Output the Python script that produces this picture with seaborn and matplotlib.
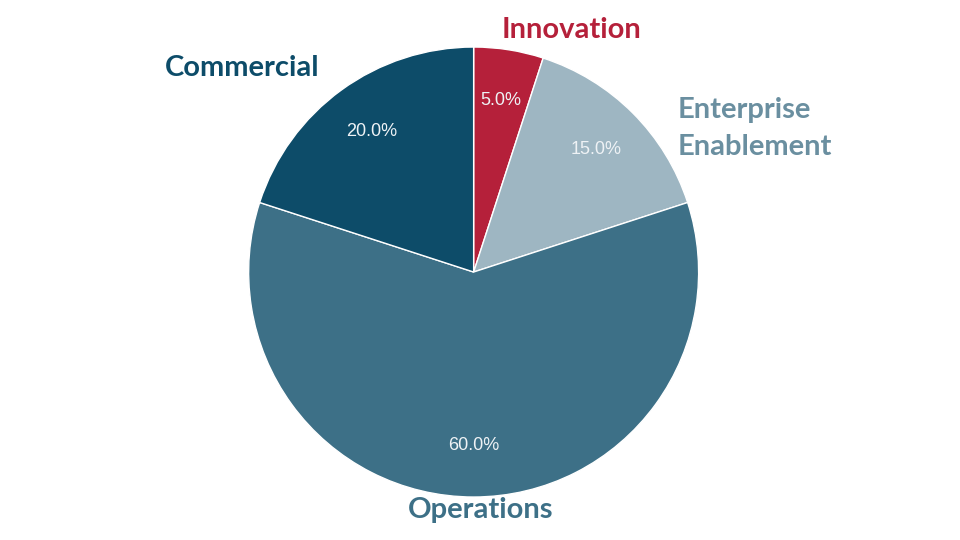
import matplotlib
matplotlib.use("Agg")
import matplotlib.pyplot as plt
import seaborn as sns

sns.set_theme(style="white")
plt.rcParams['font.family'] = ['Lato', 'DejaVu Sans']

categories = ["Innovation", "Enterprise Enablement", "Operations", "Commercial"]
values = [5, 15, 60, 20]
slice_colors = ["#B5203A", "#9EB6C2", "#3D7087", "#0D4C69"]
label_colors = ["#B5203A", "#6A8FA0", "#3D7087", "#0D4C69"]

fig = plt.figure(figsize=(9.6, 5.4), dpi=100)
ax = fig.add_axes([0.259, 0.0796, 0.46875, 0.8333])
wedges, texts, autotexts = ax.pie(
    values, colors=slice_colors, startangle=90, counterclock=False,
    autopct="%1.1f%%", pctdistance=0.77, radius=1,
    textprops=dict(color="#EEF2F5", fontsize=13, family="Liberation Sans"))
ax.set_xlim(-1, 1); ax.set_ylim(-1, 1); ax.set_aspect("equal")

lab_kw = dict(fontsize=21, fontweight="bold")
ax.text(-1.03, 0.907, "Commercial", color=label_colors[3], ha="center", va="center", **lab_kw)
ax.text(0.436, 1.076, "Innovation", color=label_colors[0], ha="center", va="center", **lab_kw)
ax.text(0.907, 0.72, "Enterprise", color=label_colors[1], ha="left", va="center", **lab_kw)
ax.text(0.907, 0.556, "Enablement", color=label_colors[1], ha="left", va="center", **lab_kw)
ax.text(0.031, -1.058, "Operations", color=label_colors[2], ha="center", va="center", **lab_kw)
ax.axis("off")
fig.savefig("out.png", dpi=100)
